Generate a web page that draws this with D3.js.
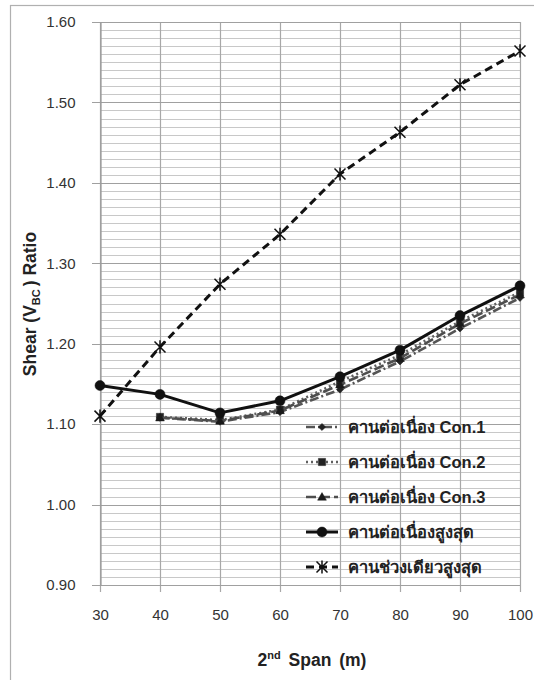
<!DOCTYPE html>
<html>
<head>
<meta charset="utf-8">
<script src="https://cdn.jsdelivr.net/npm/d3@7/dist/d3.min.js"></script>
<style>
  html, body { margin: 0; padding: 0; background: #fff; }
  svg { display: block; }
  text { font-family: "Liberation Sans", Arial, "Noto Sans", sans-serif; }
</style>
</head>
<body>
<svg id="chart" width="534" height="680"></svg>
<script>
// ---- data ----
const spans = [30, 40, 50, 60, 70, 80, 90, 100];
const con1 = [null, 1.108, 1.103, 1.115, 1.143, 1.178, 1.219, 1.257];
const con2 = [null, 1.109, 1.105, 1.118, 1.153, 1.186, 1.228, 1.264];
const con3 = [null, 1.108, 1.104, 1.117, 1.149, 1.182, 1.225, 1.261];
const maxCont = [1.148, 1.137, 1.114, 1.129, 1.159, 1.192, 1.235, 1.272];
const maxSpan = [1.110, 1.196, 1.274, 1.336, 1.411, 1.463, 1.522, 1.564];
const yTicks = [0.90, 1.00, 1.10, 1.20, 1.30, 1.40, 1.50, 1.60];
const seriesNames = ["คานต่อเนื่อง Con.1", "คานต่อเนื่อง Con.2", "คานต่อเนื่อง Con.3", "คานต่อเนื่องสูงสุด", "คานช่วงเดียวสูงสุด"];

const svg = d3.select("#chart");
const L = 100, R = 520, T = 22, B = 585;
const x = d3.scaleLinear().domain([30, 100]).range([L, R]);
const y = d3.scaleLinear().domain([0.90, 1.60]).range([B, T]);

// outer border
svg.append("rect").attr("x", 10.5).attr("y", 5.5).attr("width", 600).attr("height", 700)
  .attr("fill", "none").attr("stroke", "#b0b0b0").attr("stroke-width", 1.2);

// minor horizontal gridlines
const minor = d3.range(90, 161).map(v => v / 100);
svg.append("g").selectAll("line").data(minor.filter(v => Math.round(v * 100) % 10 !== 0)).join("line")
  .attr("x1", L).attr("x2", R)
  .attr("y1", d => Math.round(y(d)) + 0.5).attr("y2", d => Math.round(y(d)) + 0.5)
  .attr("stroke", "#c8c8c8").attr("stroke-width", 1.2);

// vertical gridlines
svg.append("g").selectAll("line").data(spans).join("line")
  .attr("x1", d => Math.round(x(d)) + 0.5).attr("x2", d => Math.round(x(d)) + 0.5)
  .attr("y1", T).attr("y2", B + 7)
  .attr("stroke", "#a8a8a8").attr("stroke-width", 1.2);

// major horizontal gridlines
svg.append("g").selectAll("line").data(yTicks).join("line")
  .attr("x1", L - 8).attr("x2", R)
  .attr("y1", d => Math.round(y(d)) + 0.5).attr("y2", d => Math.round(y(d)) + 0.5)
  .attr("stroke", "#a0a0a0").attr("stroke-width", 1.2);

// y axis via d3
const yAxis = svg.append("g").attr("transform", `translate(${L + 0.5},0)`)
  .call(d3.axisLeft(y).tickValues(yTicks).tickFormat(d3.format(".2f")).tickSize(0).tickPadding(25));
yAxis.select(".domain").attr("stroke", "#999").attr("stroke-width", 1.2);
yAxis.selectAll("text").attr("font-size", 15).attr("fill", "#333")
  .attr("font-family", "Liberation Sans, Arial, sans-serif");

// x axis via d3
const xAxis = svg.append("g").attr("transform", `translate(0,${B + 0.5})`)
  .call(d3.axisBottom(x).tickValues(spans).tickFormat(d3.format("d")).tickSize(0).tickPadding(24));
xAxis.select(".domain").remove();
xAxis.selectAll("text").attr("font-size", 15).attr("fill", "#333")
  .attr("font-family", "Liberation Sans, Arial, sans-serif");

// axis titles
const yt = svg.append("text").attr("transform", "translate(36,304) rotate(-90)")
  .attr("text-anchor", "middle").attr("font-size", 17.5).attr("font-weight", "bold").attr("fill", "#222");
yt.append("tspan").text("Shear (V");
yt.append("tspan").text("BC").attr("font-size", 11).attr("dy", 4);
yt.append("tspan").text(") Ratio").attr("dy", -4).attr("dx", 3);

const xt = svg.append("text").attr("x", 312).attr("y", 666)
  .attr("text-anchor", "middle").attr("font-size", 17.5).attr("font-weight", "bold").attr("fill", "#222")
  .attr("word-spacing", 3);
xt.append("tspan").text("2");
xt.append("tspan").text("nd").attr("font-size", 11).attr("dy", -7);
xt.append("tspan").text(" Span (m)").attr("dy", 7);

// marker shapes
function markerPath(type, s) {
  const p = d3.path();
  if (type === "diamond") { p.moveTo(0, -s); p.lineTo(s, 0); p.lineTo(0, s); p.lineTo(-s, 0); p.closePath(); }
  else if (type === "square") { p.rect(-s, -s, 2 * s, 2 * s); }
  else if (type === "triangle") { p.moveTo(0, -s * 1.1); p.lineTo(s * 1.1, s * 0.8); p.lineTo(-s * 1.1, s * 0.8); p.closePath(); }
  else if (type === "circle") { p.arc(0, 0, s, 0, 2 * Math.PI); }
  else if (type === "star") { p.moveTo(-s, -s); p.lineTo(s, s); p.moveTo(-s, s); p.lineTo(s, -s); p.moveTo(0, -s * 1.2); p.lineTo(0, s * 1.2); }
  return p.toString();
}

const series = [
  { name: seriesNames[0], vals: con1, color: "#555", dash: "9,3,2,3", width: 2.6, marker: "diamond", ms: 3.6, mcolor: "#222" },
  { name: seriesNames[1], vals: con2, color: "#606060", dash: "2,3", width: 2.6, marker: "square", ms: 3.6, mcolor: "#222" },
  { name: seriesNames[2], vals: con3, color: "#4e4e4e", dash: "10,4", width: 2.6, marker: "triangle", ms: 4, mcolor: "#1a1a1a" },
  { name: seriesNames[3], vals: maxCont, color: "#111", dash: null, width: 3, marker: "circle", ms: 5, mcolor: "#111" },
  { name: seriesNames[4], vals: maxSpan, color: "#111", dash: "8,5", width: 3, marker: "star", ms: 5.5, mcolor: "#111" }
];

const line = d3.line().defined(d => d.v != null).x(d => x(d.x)).y(d => y(d.v));

series.forEach(s => {
  const pts = spans.map((sp, i) => ({ x: sp, v: s.vals[i] }));
  svg.append("path").datum(pts).attr("d", line)
    .attr("fill", "none").attr("stroke", s.color).attr("stroke-width", s.width)
    .attr("stroke-dasharray", s.dash).attr("stroke-linejoin", "round");
  svg.append("g").selectAll("path").data(pts.filter(d => d.v != null)).join("path")
    .attr("transform", d => `translate(${x(d.x)},${y(d.v)})`)
    .attr("d", markerPath(s.marker, s.ms))
    .attr("fill", s.marker === "star" ? "none" : s.mcolor)
    .attr("stroke", s.mcolor).attr("stroke-width", s.marker === "star" ? 1.5 : 0.5);
});

// legend
const legY = [427, 462, 497, 532, 567];
const lg = svg.append("g");
series.forEach((s, i) => {
  const g = lg.append("g").attr("transform", `translate(306,${legY[i]})`);
  g.append("line").attr("x1", 0).attr("x2", 32).attr("y1", 0).attr("y2", 0)
    .attr("stroke", s.color).attr("stroke-width", s.width).attr("stroke-dasharray", s.dash);
  g.append("path").attr("transform", "translate(16,0)").attr("d", markerPath(s.marker, s.ms))
    .attr("fill", s.marker === "star" ? "none" : s.mcolor)
    .attr("stroke", s.mcolor).attr("stroke-width", s.marker === "star" ? 1.5 : 0.5);
  g.append("text").attr("x", 42).attr("y", 6).attr("font-size", 16.5).attr("font-weight", "bold")
    .attr("fill", "#222").text(s.name);
});
</script>
</body>
</html>
